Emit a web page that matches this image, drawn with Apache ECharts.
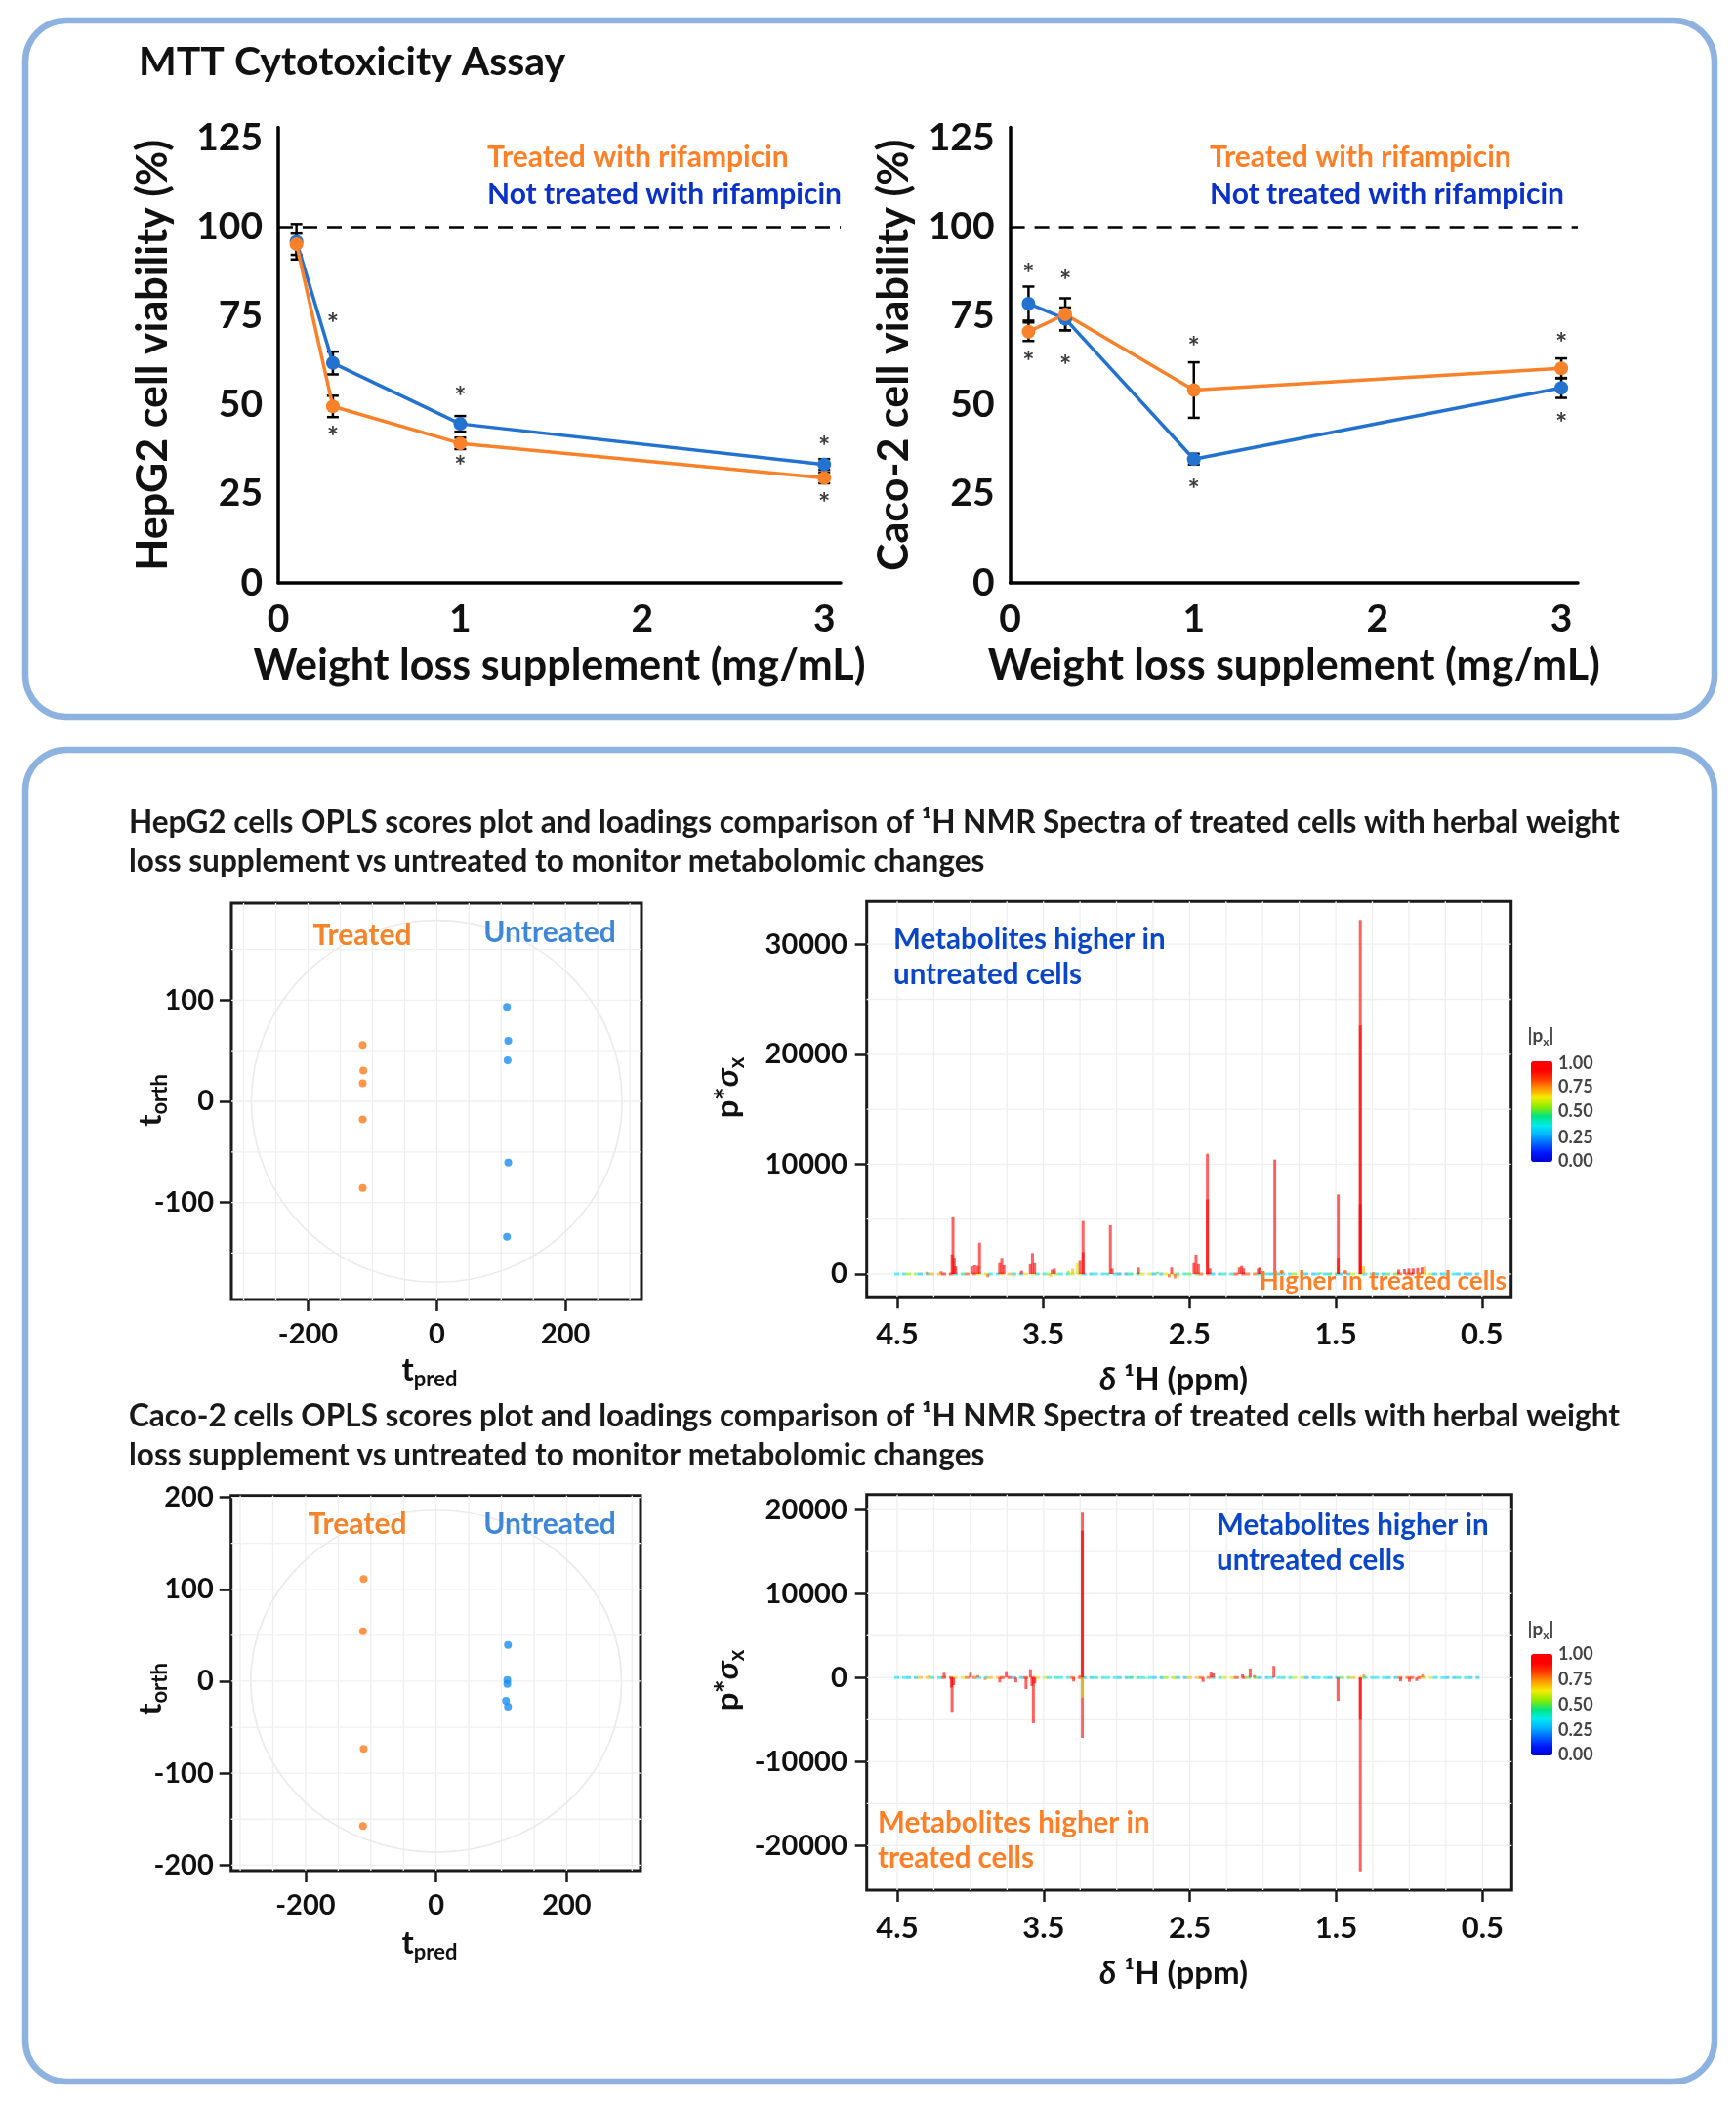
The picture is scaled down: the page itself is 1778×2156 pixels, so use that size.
<!DOCTYPE html>
<html><head><meta charset="utf-8">
<script src="https://cdn.jsdelivr.net/npm/echarts@6/dist/echarts.min.js"></script>
<style>html,body{margin:0;padding:0;background:#fff}#c{width:1778px;height:2156px}</style>
</head><body><div id="c"></div>
<script>
// ---------------- DATA ----------------
// MTT cytotoxicity
const conc = [0.1, 0.3, 1, 3];
const hepTreated = [95.2, 49.6, 39.2, 29.5];
const hepTreatedErr = [3, 3, 1.6, 1.5];
const hepUntreated = [95.9, 61.8, 44.7, 33.3];
const hepUntreatedErr = [5, 3.2, 2.2, 1.5];
const hepStarsAbove = [null, 74.5, 54, 39.8];
const hepStarsBelow = [null, 42.7, 34.3, 24];
const cacoTreated = [70.6, 75.5, 54.2, 60.3];
const cacoTreatedErr = [2.6, 4.5, 7.8, 2.8];
const cacoUntreated = [78.5, 74.2, 34.8, 54.8];
const cacoUntreatedErr = [4.8, 3.2, 1.5, 2.8];
const cacoStarsAbove = [88.6, 86.5, 68, 69];
const cacoStarsBelow = [63.9, 62.8, 27.7, 46.5];
const mttXTicks = [0, 1, 2, 3];
const mttYTicks = [0, 25, 50, 75, 100, 125];

// OPLS scores (t_pred, t_orth)
const hepScTreatedX = [-115, -114, -115, -115, -115];
const hepScTreatedY = [55.7, 30.5, 17.9, -17.9, -85.8];
const hepScUntreatedX = [109, 111, 110, 111, 109];
const hepScUntreatedY = [93.5, 59.9, 40.5, -60.6, -133.9];
const cacoScTreatedX = [-111, -112, -111, -112];
const cacoScTreatedY = [111.3, 54.4, -73.6, -157.3];
const cacoScUntreatedX = [110, 109, 109, 107, 110];
const cacoScUntreatedY = [39.5, 1.4, -2.9, -21.2, -27.6];
const hepEllipse = [0, 0, 288, 179];
const cacoEllipse = [0, 0, 284, 186];
const scoresXTicks = [-200, 0, 200];
const hepScoresYTicks = [-100, 0, 100];
const cacoScoresYTicks = [-200, -100, 0, 100, 200];

// Loadings (ppm, p*sigma_x, |p_corr|)
const hepPpm  = [4.119,4.125,4.110,4.100,4.300,4.200,3.990,3.970,3.950,3.937,3.880,3.800,3.785,3.770,3.700,3.650,3.590,3.575,3.560,3.450,3.440,3.425,3.330,3.300,3.270,3.250,3.229,3.229,3.042,3.030,2.850,2.720,2.640,2.623,2.600,2.580,2.470,2.456,2.440,2.378,2.378,2.360,2.160,2.144,2.130,2.030,2.020,1.917,1.600,1.483,1.483,1.332,1.332,1.332,1.310,1.070,1.030,1.000,0.970,0.940,0.910,0.890];
const hepLoad = [5240,1800,1500,700,200,250,700,800,750,2870,-300,1000,1480,800,-200,300,900,1920,1000,-250,400,500,300,500,1000,1200,4830,2000,4440,500,590,200,-300,600,-400,-300,1000,1780,900,10950,6800,500,600,740,500,500,600,10420,150,7250,1500,32210,22630,6360,700,400,450,500,500,550,600,700];
const hepCorr = [0.95,1,1,1,0.75,0.8,0.95,1,1,0.95,0.8,1,1,1,0.6,0.9,1,0.95,1,0.7,1,1,0.55,0.7,0.6,0.9,0.95,1,0.95,1,0.95,0.5,0.8,0.95,0.8,0.6,1,0.95,1,0.95,1,1,1,1,1,1,1,0.95,0.5,0.95,1,0.95,1,1,0.7,1,1,1,1,1,1,0.7];

const cacoPpm  = [3.235,3.235,3.235,3.235,4.126,4.130,4.115,4.180,4.280,4.000,3.950,3.900,3.800,3.755,3.690,3.620,3.590,3.580,3.570,3.560,3.295,3.250,2.900,2.800,2.600,2.410,2.356,2.340,2.140,2.088,2.060,1.926,1.487,1.335,1.335,1.310,1.060,1.000,0.950,0.910];
const cacoLoad = [19650,17500,-7170,-2400,-4070,-1200,-900,580,250,580,300,-300,-580,770,-580,-1360,1000,-1000,-5430,-700,-460,300,150,-150,-200,-520,650,500,380,1090,300,1400,-2780,-23070,-5000,400,-450,-500,-400,400];
const cacoCorr = [0.95,1,0.9,0.6,0.95,1,1,0.95,0.7,0.95,0.8,0.75,0.9,0.95,0.9,1,0.95,1,0.95,1,0.9,0.8,0.4,0.5,0.6,0.9,0.95,1,0.9,0.95,0.8,0.9,0.95,0.95,1,0.75,0.9,0.9,0.9,0.8];

// baseline noise colour (|p_corr|) along the spectrum
const basePpm = [4.48,4.40,4.32,4.24,4.16,4.08,4.00,3.92,3.84,3.76,3.68,3.60,3.52,3.44,3.36,3.28,3.20,3.12,3.04,2.96,2.88,2.80,2.72,2.64,2.56,2.48,2.40,2.32,2.24,2.16,2.08,2.00,1.92,1.84,1.76,1.68,1.60,1.52,1.44,1.36,1.28,1.20,1.12,1.04,0.96,0.88,0.80,0.72,0.64,0.56];
const hepBaseCorr = [0.35,0.55,0.3,0.7,0.9,0.4,0.8,0.6,0.35,0.7,0.3,0.65,0.4,0.55,0.35,0.6,0.3,0.35,0.4,0.25,0.45,0.6,0.3,0.65,0.35,0.5,0.8,0.3,0.4,0.85,0.8,0.4,0.3,0.35,0.55,0.3,0.35,0.45,0.3,0.6,0.35,0.3,0.5,0.8,0.85,0.6,0.3,0.35,0.3,0.3];
const cacoBaseCorr = [0.35,0.3,0.7,0.4,0.85,0.6,0.8,0.35,0.7,0.9,0.3,0.85,0.6,0.4,0.35,0.8,0.3,0.4,0.35,0.3,0.45,0.35,0.3,0.55,0.3,0.7,0.8,0.35,0.6,0.85,0.5,0.3,0.35,0.4,0.6,0.3,0.35,0.3,0.5,0.7,0.4,0.35,0.3,0.8,0.85,0.6,0.35,0.3,0.4,0.3];
const ppmTicks = [0.5, 1.5, 2.5, 3.5, 4.5];
const hepLoadTicks = [0, 10000, 20000, 30000];
const cacoLoadTicks = [-20000, -10000, 0, 10000, 20000];
const corrTicks = ['1.00', '0.75', '0.50', '0.25', '0.00'];

// grid lines of the OPLS panels
const scoresGridX = [-300,-250,-200,-150,-100,-50,0,50,100,150,200,250,300];
const hepScoresGridY = [-150,-100,-50,0,50,100,150];
const cacoScoresGridY = [-200,-150,-100,-50,0,50,100,150,200];
const ppmGrid = [0.5,0.75,1,1.25,1.5,1.75,2,2.25,2.5,2.75,3,3.25,3.5,3.75,4,4.25,4.5];
const hepLoadGridY = [0,5000,10000,15000,20000,25000,30000];
const cacoLoadGridY = [-20000,-15000,-10000,-5000,0,5000,10000,15000,20000];

// ---------------- STYLE ----------------
const FF = 'Lato, "Open Sans", "DejaVu Sans", sans-serif';
const ORANGE = '#F8812A', BLUE = '#2372CF';
const LEG_OR = '#FF7F27', LEG_BL = '#0A32C8';
const SC_OR = '#FF7A1C', SC_BL = '#1A8FF0';
const TXT_OR = '#FF7F27', TXT_BL = '#0A46C8';
const JET = ['#0000d0','#0018ff','#0064ff','#00b4ff','#00ecec','#00e47c','#8cec00','#f4ec00','#ff9a00','#ff3c00','#ff0000','#ff0000'];
const BORDER = '#1a1a1a';

const chart = echarts.init(document.getElementById('c'));

const zip = (a, b) => a.map((v, i) => [v, b[i]]);
const rows3 = (a, b, c) => a.map((v, i) => [v, b[i], c[i]]);

function mttAxes(gi, yName, nameGap) {
  const x = {
    gridIndex: gi, type: 'value', min: 0, max: 3.09, interval: 1,
    axisLine: { onZero: false, lineStyle: { color: '#000', width: 3.5 } },
    axisTick: { show: false }, splitLine: { show: false },
    axisLabel: { fontSize: 39, fontWeight: 'bold', color: '#111', margin: 18, fontFamily: FF, showMaxLabel: false },
    name: 'Weight loss supplement (mg/mL)', nameLocation: 'middle', nameGap: 64,
    nameTextStyle: { fontSize: 43, fontWeight: 'bold', color: '#111', fontFamily: FF }
  };
  const y = {
    gridIndex: gi, type: 'value', min: 0, max: 128, interval: 25,
    axisLine: { show: true, onZero: false, lineStyle: { color: '#000', width: 3.5 } },
    axisTick: { show: false }, splitLine: { show: false },
    axisLabel: { fontSize: 39, fontWeight: 'bold', color: '#111', margin: 16, fontFamily: FF, showMaxLabel: false },
    name: yName, nameLocation: 'middle', nameGap: nameGap, nameRotate: 90,
    nameTextStyle: { fontSize: 43, fontWeight: 'bold', color: '#111', fontFamily: FF }
  };
  return [x, y];
}

function boxAxis(gi, min, max, ticks, margin, size, opts) {
  const ax = {
    gridIndex: gi, type: 'value', min: min, max: max,
    axisLine: { show: false, onZero: false },
    axisTick: { show: true, inside: false, length: 12, customValues: ticks, lineStyle: { color: BORDER, width: 2.5 } },
    axisLabel: { customValues: ticks, fontSize: size, fontWeight: 'bold', color: '#111', margin: margin, fontFamily: FF,
      formatter: v => String(v) },
    splitLine: { show: false }
  };
  return Object.assign(ax, opts || {});
}

const grids = [
  { left: 285, top: 130.6, width: 576, height: 466.4 },
  { left: 1034.6, top: 130.6, width: 581.4, height: 466.4 },
  { left: 237, top: 925, width: 420, height: 406, show: true, borderColor: BORDER, borderWidth: 3 },
  { left: 887.7, top: 923.3, width: 660, height: 405, show: true, borderColor: BORDER, borderWidth: 3 },
  { left: 236.7, top: 1531.7, width: 419.3, height: 384.3, show: true, borderColor: BORDER, borderWidth: 3 },
  { left: 887.7, top: 1530.7, width: 660.6, height: 405.3, show: true, borderColor: BORDER, borderWidth: 3 }
];

const [mx0, my0] = mttAxes(0, 'HepG2 cell viability (%)', 106);
const [mx1, my1] = mttAxes(1, 'Caco-2 cell viability (%)', 97);

const xAxes = [
  mx0, mx1,
  boxAxis(2, -319, 318, scoresXTicks, 21, 29),
  boxAxis(3, 0.30, 4.709, ppmTicks, 23, 31, { inverse: true }),
  boxAxis(4, -314, 313, scoresXTicks, 21, 29),
  boxAxis(5, 0.30, 4.709, ppmTicks, 23, 31, { inverse: true })
];
xAxes[3].axisLabel.formatter = v => Number(v).toFixed(1);
xAxes[5].axisLabel.formatter = v => Number(v).toFixed(1);
const yAxes = [
  my0, my1,
  boxAxis(2, -196, 196, hepScoresYTicks, 18, 29),
  boxAxis(3, -2070, 33900, hepLoadTicks, 20, 29),
  boxAxis(4, -206, 202, cacoScoresYTicks, 18, 29),
  boxAxis(5, -25300, 21800, cacoLoadTicks, 20, 29)
];

const series = [];
function add(s) { series.push(s); return series.length - 1; }

// error bars
function errSeries(gi, rows) {
  return {
    type: 'custom', xAxisIndex: gi, yAxisIndex: gi, z: 1, silent: true,
    data: rows,
    renderItem: (p, api) => {
      const x = api.value(0), v = api.value(1), e = api.value(2);
      const a = api.coord([x, v + e]), b = api.coord([x, v - e]);
      const st = { stroke: '#000', lineWidth: 2.5 };
      return { type: 'group', children: [
        { type: 'line', shape: { x1: a[0], y1: a[1], x2: b[0], y2: b[1] }, style: st },
        { type: 'line', shape: { x1: a[0] - 6, y1: a[1], x2: a[0] + 6, y2: a[1] }, style: st },
        { type: 'line', shape: { x1: b[0] - 6, y1: b[1], x2: b[0] + 6, y2: b[1] }, style: st }
      ]};
    }
  };
}
function starSeries(gi, rows) {
  return {
    type: 'custom', xAxisIndex: gi, yAxisIndex: gi, z: 4, silent: true,
    data: rows,
    renderItem: (p, api) => {
      const c = api.coord([api.value(0), api.value(1)]);
      return { type: 'text', x: c[0], y: c[1] + 6, style: { text: '*', fontSize: 29, fontWeight: 'bold', fill: '#3a3a3a', align: 'center', verticalAlign: 'middle', fontFamily: FF } };
    }
  };
}
function starRows(above, below) {
  const r = [];
  conc.forEach((x, i) => { if (above[i] != null) r.push([x, above[i]]); if (below[i] != null) r.push([x, below[i]]); });
  return r;
}
function lineSeries(gi, ys, color, withRef) {
  const s = {
    type: 'line', xAxisIndex: gi, yAxisIndex: gi, z: 3, data: zip(conc, ys),
    symbol: 'circle', symbolSize: 14, itemStyle: { color: color },
    lineStyle: { color: color, width: 3.5 }, silent: true
  };
  if (withRef) s.markLine = { silent: true, symbol: ['none', 'none'], label: { show: false },
    lineStyle: { color: '#000', width: 3.5, type: [15, 10] }, data: [{ yAxis: 100 }] };
  return s;
}

// MTT HepG2
add(errSeries(0, rows3(conc, hepUntreated, hepUntreatedErr).concat(rows3(conc, hepTreated, hepTreatedErr))));
add(lineSeries(0, hepUntreated, BLUE, true));
add(lineSeries(0, hepTreated, ORANGE, false));
add(starSeries(0, starRows(hepStarsAbove, hepStarsBelow)));
// MTT Caco-2
add(errSeries(1, rows3(conc, cacoUntreated, cacoUntreatedErr).concat(rows3(conc, cacoTreated, cacoTreatedErr))));
add(lineSeries(1, cacoUntreated, BLUE, true));
add(lineSeries(1, cacoTreated, ORANGE, false));
add(starSeries(1, starRows(cacoStarsAbove, cacoStarsBelow)));

// grid lines for boxed panels
function gridLineSeries(gi, xs, ys) {
  const data = xs.map(v => [v, 0, 0]).concat(ys.map(v => [0, v, 1]));
  return {
    type: 'custom', xAxisIndex: gi, yAxisIndex: gi, z: 0, silent: true, data: data,
    renderItem: (p, api) => {
      const cs = p.coordSys;
      const st = { stroke: '#EFEFEF', lineWidth: 1.3 };
      if (api.value(2) === 0) {
        const px = api.coord([api.value(0), 0])[0];
        return { type: 'line', shape: { x1: px, y1: cs.y, x2: px, y2: cs.y + cs.height }, style: st };
      }
      const py = api.coord([api.value(0), api.value(1)])[1];
      return { type: 'line', shape: { x1: cs.x, y1: py, x2: cs.x + cs.width, y2: py }, style: st };
    }
  };
}
function ellipseSeries(gi, e) {
  return {
    type: 'custom', xAxisIndex: gi, yAxisIndex: gi, z: 1, silent: true, data: [e],
    renderItem: (p, api) => {
      const c = api.coord([api.value(0), api.value(1)]);
      const ex = api.coord([api.value(2), api.value(1)]);
      const ey = api.coord([api.value(0), api.value(3)]);
      const rx = Math.abs(ex[0] - c[0]), ry = Math.abs(c[1] - ey[1]);
      return { type: 'circle', x: c[0], y: c[1], scaleX: rx / ry, scaleY: 1,
        shape: { cx: 0, cy: 0, r: ry }, style: { fill: 'none', stroke: '#EBEBEB', lineWidth: 1.6, strokeNoScale: true } };
    }
  };
}
function scatter(gi, xs, ys, color) {
  return { type: 'scatter', xAxisIndex: gi, yAxisIndex: gi, z: 3, silent: true, data: zip(xs, ys),
    symbol: 'circle', symbolSize: 8, itemStyle: { color: color } };
}
function baselineSeries(gi, ppm, corr) {
  return {
    type: 'custom', xAxisIndex: gi, yAxisIndex: gi, z: 2, silent: true,
    data: ppm.map((v, i) => [v, 0, corr[i]]),
    renderItem: (p, api) => {
      const a = api.coord([api.value(0) + 0.04, 0]), b = api.coord([api.value(0) - 0.04, 0]);
      return { type: 'line', shape: { x1: a[0], y1: a[1], x2: b[0], y2: b[1] },
        style: { stroke: api.visual('color'), lineWidth: 3, opacity: 0.6, lineDash: [5, 3] } };
    }
  };
}
function stickSeries(gi, ppm, load, corr) {
  return {
    type: 'custom', xAxisIndex: gi, yAxisIndex: gi, z: 3, silent: true,
    data: rows3(ppm, load, corr),
    renderItem: (p, api) => {
      const a = api.coord([api.value(0), 0]), b = api.coord([api.value(0), api.value(1)]);
      return { type: 'line', shape: { x1: a[0], y1: a[1], x2: b[0], y2: b[1] },
        style: { stroke: api.visual('color'), lineWidth: 3, opacity: 0.62 } };
    }
  };
}

// HepG2 OPLS
add(gridLineSeries(2, scoresGridX, hepScoresGridY));
add(ellipseSeries(2, hepEllipse));
add(scatter(2, hepScTreatedX, hepScTreatedY, SC_OR));
add(scatter(2, hepScUntreatedX, hepScUntreatedY, SC_BL));
add(gridLineSeries(3, ppmGrid, hepLoadGridY));
const iHepBase = add(baselineSeries(3, basePpm, hepBaseCorr));
const iHepStick = add(stickSeries(3, hepPpm, hepLoad, hepCorr));
// Caco-2 OPLS
add(gridLineSeries(4, scoresGridX, cacoScoresGridY));
add(ellipseSeries(4, cacoEllipse));
add(scatter(4, cacoScTreatedX, cacoScTreatedY, SC_OR));
add(scatter(4, cacoScUntreatedX, cacoScUntreatedY, SC_BL));
add(gridLineSeries(5, ppmGrid, cacoLoadGridY));
const iCacoBase = add(baselineSeries(5, basePpm, cacoBaseCorr));
const iCacoStick = add(stickSeries(5, cacoPpm, cacoLoad, cacoCorr));

const visualMap = [
  { type: 'continuous', seriesIndex: [iHepBase, iHepStick], dimension: 2, min: 0, max: 1,
    inRange: { color: JET }, show: true, calculable: false, hoverLink: false,
    left: 1563, top: 1082, itemWidth: 22, itemHeight: 103, text: null, padding: 5 },
  { type: 'continuous', seriesIndex: [iCacoBase, iCacoStick], dimension: 2, min: 0, max: 1,
    inRange: { color: JET }, show: true, calculable: false, hoverLink: false,
    left: 1563, top: 1689, itemWidth: 22, itemHeight: 104, text: null, padding: 5 }
];

// ---------------- TEXT / DECOR ----------------
function T(x, y, text, size, color, extra) {
  return Object.assign({ type: 'text', x: x, y: y, silent: true, z: 10,
    style: Object.assign({ text: text, fontSize: size, fontWeight: 'bold', fill: color, fontFamily: FF,
      align: 'left', verticalAlign: 'middle' }, (extra && extra.style) || {}) },
    extra && extra.el ? extra.el : {});
}
const graphic = [
  { type: 'rect', silent: true, z: 0, shape: { x: 26, y: 21, width: 1730, height: 713, r: 42 },
    style: { fill: 'none', stroke: '#8DB2E0', lineWidth: 6.5 } },
  { type: 'rect', silent: true, z: 0, shape: { x: 26, y: 768, width: 1730, height: 1364, r: 42 },
    style: { fill: 'none', stroke: '#8DB2E0', lineWidth: 6.5 } },
  T(142, 64, 'MTT Cytotoxicity Assay', 41, '#111'),
  T(499, 161, 'Treated with rifampicin', 30, LEG_OR),
  T(499, 199, 'Not treated with rifampicin', 30, LEG_BL),
  T(1239, 161, 'Treated with rifampicin', 30, LEG_OR),
  T(1239, 199, 'Not treated with rifampicin', 30, LEG_BL),
  T(132, 843, 'HepG2 cells OPLS scores plot and loadings comparison of \u00b9H NMR Spectra of treated cells with herbal weight', 31.5, '#1a1a1a'),
  T(132, 883, 'loss supplement vs untreated to monitor metabolomic changes', 31.5, '#1a1a1a'),
  T(132, 1451, 'Caco-2 cells OPLS scores plot and loadings comparison of \u00b9H NMR Spectra of treated cells with herbal weight', 31.5, '#1a1a1a'),
  T(132, 1491, 'loss supplement vs untreated to monitor metabolomic changes', 31.5, '#1a1a1a'),
  T(371, 958, 'Treated', 30, '#F5832A', { style: { align: 'center' } }),
  T(563, 955, 'Untreated', 30, '#3D86D8', { style: { align: 'center' } }),
  T(366, 1561, 'Treated', 30, '#F5832A', { style: { align: 'center' } }),
  T(563, 1561, 'Untreated', 30, '#3D86D8', { style: { align: 'center' } }),
  T(915, 962, 'Metabolites higher in', 29.5, TXT_BL),
  T(915, 998, 'untreated cells', 29.5, TXT_BL),
  T(1543, 1313, 'Higher in treated cells', 26, TXT_OR, { style: { align: 'right' } }),
  T(1246, 1562, 'Metabolites higher in', 29.5, TXT_BL),
  T(1246, 1598, 'untreated cells', 29.5, TXT_BL),
  T(899, 1867, 'Metabolites higher in', 29.5, TXT_OR),
  T(899, 1903, 'treated cells', 29.5, TXT_OR)
];
// axis titles with sub/superscripts
function richT(x, y, text, rich, rot) {
  return { type: 'text', x: x, y: y, rotation: rot || 0, silent: true, z: 10,
    style: { text: text, rich: rich, fill: '#111', fontFamily: FF, fontWeight: 'bold', align: 'center', verticalAlign: 'middle' } };
}
const subRich = {
  a: { fontSize: 33, lineHeight: 42, fontWeight: 'bold', fontFamily: FF, fill: '#111' },
  g: { fontSize: 33, lineHeight: 42, fontWeight: 'bold', fontStyle: 'italic', fontFamily: FF, fill: '#111' },
  b: { fontSize: 22, lineHeight: 22, fontWeight: 'bold', fontFamily: FF, fill: '#111', verticalAlign: 'bottom' }
};
graphic.push(
  richT(154, 1127, '{a|t}{b|orth}', subRich, Math.PI / 2),
  richT(154, 1730, '{a|t}{b|orth}', subRich, Math.PI / 2),
  richT(440, 1403, '{a|t}{b|pred}', subRich),
  richT(440, 1990, '{a|t}{b|pred}', subRich),
  richT(745, 1114, '{a|p*}{g|\u03c3}{b|x}', subRich, Math.PI / 2),
  richT(745, 1721, '{a|p*}{g|\u03c3}{b|x}', subRich, Math.PI / 2),
  richT(1202, 1413, '{g|\u03b4}{a| \u00b9H (ppm)}', subRich),
  richT(1202, 2021, '{g|\u03b4}{a| \u00b9H (ppm)}', subRich)
);
// colour-bar labels
const cbRich = {
  a: { fontSize: 19, lineHeight: 24, fontWeight: 'bold', fontFamily: FF, fill: '#444' },
  b: { fontSize: 12, lineHeight: 12, fontWeight: 'bold', fontFamily: FF, fill: '#444', verticalAlign: 'bottom' }
};
[[1061, [1089, 1113, 1138, 1165, 1189]], [1669, [1694, 1720, 1746, 1772, 1797]]].forEach(([ty, ys]) => {
  graphic.push(richT(1578, ty, '{a||p}{b|x}{a||}', cbRich));
  ys.forEach((y, i) => graphic.push(T(1596, y, corrTicks[i], 18, '#444')));
});

chart.setOption({
  backgroundColor: '#ffffff',
  animation: false,
  textStyle: { fontFamily: FF },
  grid: grids,
  xAxis: xAxes,
  yAxis: yAxes,
  visualMap: visualMap,
  series: series,
  graphic: { elements: graphic }
});
</script></body></html>
